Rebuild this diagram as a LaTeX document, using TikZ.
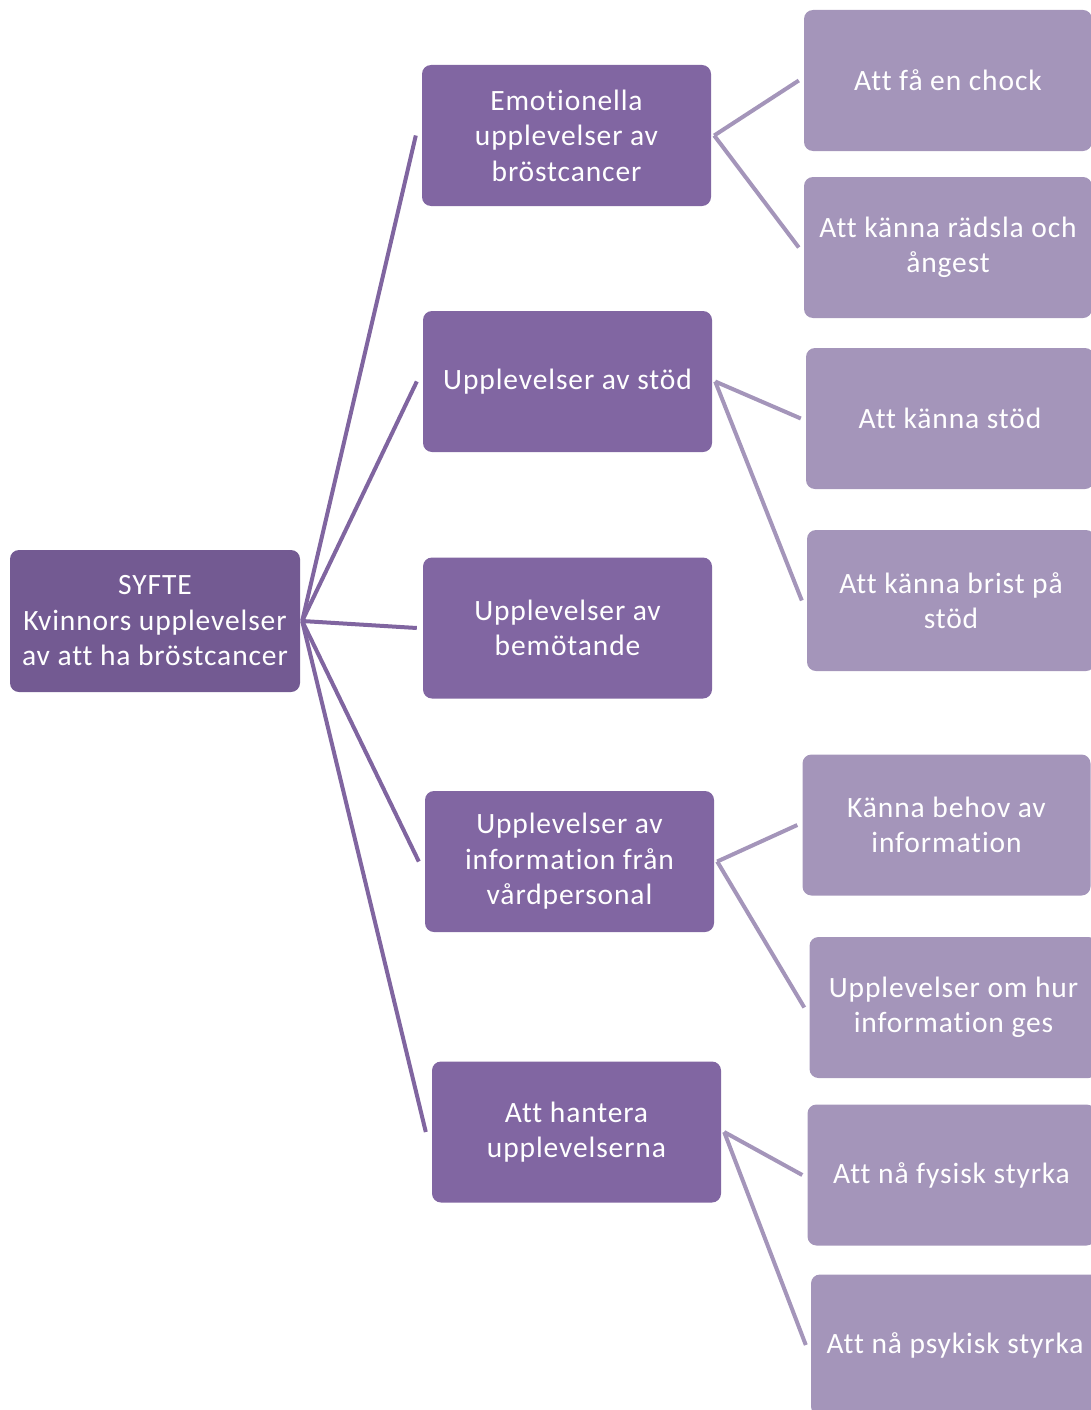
\documentclass[tikz,border=0pt]{standalone}
\usepackage{fontspec}
\setmainfont{Carlito}[Ligatures={NoCommon},LetterSpace=3]
\usetikzlibrary{calc}
\definecolor{rootc}{HTML}{735A92}
\definecolor{midc}{HTML}{8166A2}
\definecolor{leafc}{HTML}{A495BA}
\definecolor{linkA}{HTML}{8065A0}
\definecolor{linkB}{HTML}{A495BA}
\begin{document}
\begin{tikzpicture}[x=1pt,y=-1pt,
  box/.style={rounded corners=9pt, text=white, align=center, inner sep=0pt,
    font=\fontsize{29.5}{35.5}\selectfont, minimum width=289pt, minimum height=141pt},
  rootbox/.style={box, fill=rootc, minimum width=290pt, minimum height=142pt},
  midbox/.style={box, fill=midc},
  leafbox/.style={box, fill=leafc, minimum width=288pt},
  linka/.style={draw=linkA, line width=4pt},
  linkb/.style={draw=linkB, line width=4pt}]
\useasboundingbox (0,0) rectangle (1091,1410);
\clip (0,0) rectangle (1091,1410);

\node[rootbox] (root) at (155,621) {SYFTE\\Kvinnors upplevelser\\av att ha bröstcancer};

\node[midbox] (m1) at (566.5,135.5) {Emotionella\\upplevelser av\\bröstcancer};
\node[midbox] (m2) at (567.5,381.5) {Upplevelser av stöd};
\node[midbox] (m3) at (567.5,628) {Upplevelser av\\bemötande};
\node[midbox] (m4) at (569.5,861.5) {Upplevelser av\\information från\\vårdpersonal};
\node[midbox] (m5) at (576.5,1132) {Att hantera\\upplevelserna};

\node[leafbox] (l1) at (948,80.5) {Att få en chock};
\node[leafbox] (l2) at (948,247.5) {Att känna rädsla och\\ångest};
\node[leafbox] (l3) at (950,418.5) {Att känna stöd};
\node[leafbox] (l4) at (951,600.5) {Att känna brist på\\stöd};
\node[leafbox] (l5) at (946.5,825) {Känna behov av\\information};
\node[leafbox] (l6) at (953.5,1007.5) {Upplevelser om hur\\information ges};
\node[leafbox] (l7) at (951.5,1175) {Att nå fysisk styrka};
\node[leafbox] (l8) at (955,1345) {Att nå psykisk styrka};

\foreach \m in {m1,m2,m3,m4,m5}
  \draw[linka] ($(root.east)+(2,0)$) -- ($(\m.west)+(-6,0)$);

\foreach \m/\a/\b in {m1/l1/l2, m2/l3/l4, m4/l5/l6, m5/l7/l8}{
  \draw[linkb] ($(\m.east)+(3,0)$) -- ($(\a.west)+(-5,0)$);
  \draw[linkb] ($(\m.east)+(3,0)$) -- ($(\b.west)+(-5,0)$);
}
\end{tikzpicture}
\end{document}
